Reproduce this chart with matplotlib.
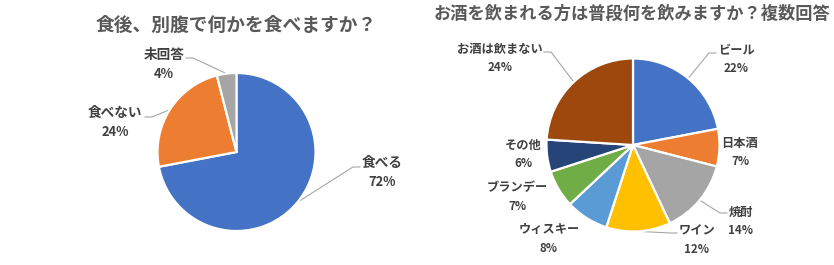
import numpy as np
import matplotlib.pyplot as plt

plt.rcParams['font.family'] = ['Noto Sans CJK JP', 'DejaVu Sans']

W, H = 834, 265

# 食後、別腹で何かを食べますか？
after_labels = ['食べる', '食べない', '未回答']
after_values = [72, 24, 4]

# お酒を飲まれる方は普段何を飲みますか？（複数回答）
drink_labels = ['ビール', '日本酒', '焼酎', 'ワイン', 'ウィスキー',
                'ブランデー', 'その他', 'お酒は飲まない']
drink_values = [22, 7, 14, 12, 8, 7, 6, 24]

office = ['#4472C4', '#ED7D31', '#A5A5A5', '#FFC000',
          '#5B9BD5', '#70AD47', '#264478', '#9E480E']

# label layout in pixel coords (y down): name centre x, name y, leader start or None
after_pos = [(382, 163, (360, 167)),
             (115, 113, (145, 117)),
             (164, 55, (186, 58))]
drink_pos = [(736, 50, (716, 53)),
             (740, 143, None),
             (741, 212, (727, 213)),
             (697, 231, (677, 233)),
             (549, 230, None),
             (517, 188, None),
             (523, 145, None),
             (500, 49, (544, 52))]

fig = plt.figure(figsize=(W / 100, H / 100), dpi=100)
ax = fig.add_axes([0, 0, 1, 1])


def draw_pie(values, labels, pos, center, radius, fs, dy):
    # y axis is flipped, so counterclock in data = clockwise on screen
    wedges, _ = ax.pie(values, colors=office[:len(values)], center=center,
                       radius=radius, startangle=-90, counterclock=True,
                       wedgeprops=dict(edgecolor='white', linewidth=1.6))
    total = sum(values)
    for w, name, v, (x, y, anchor) in zip(wedges, labels, values, pos):
        ax.text(x, y, name, ha='center', va='center', fontsize=fs,
                fontweight='bold', color='#404040')
        ax.text(x, y + dy, f'{round(100 * v / total)}%', ha='center',
                va='center', fontsize=fs * 0.95, fontweight='bold',
                color='#404040')
        if anchor is None:
            continue
        mid = np.deg2rad((w.theta1 + w.theta2) / 2)
        ex = center[0] + radius * np.cos(mid)
        ey = center[1] + radius * np.sin(mid)
        step = 7 if ex > anchor[0] else -7
        ax.plot([anchor[0], anchor[0] + step, ex], [anchor[1], anchor[1], ey],
                color='#A6A6A6', linewidth=0.8, zorder=0)


draw_pie(after_values, after_labels, after_pos, (236.5, 152), 79, 9.8, 19.5)
draw_pie(drink_values, drink_labels, drink_pos, (633, 145), 86.5, 8.8, 18.5)

ax.text(236, 25, '食後、別腹で何かを食べますか？', ha='center', va='center',
        fontsize=13.5, fontweight='bold', color='#595959')
ax.text(434, 14, 'お酒を飲まれる方は普段何を飲みますか？複数回答', ha='left',
        va='center', fontsize=12.4, fontweight='bold', color='#595959')

ax.set_xlim(0, W)
ax.set_ylim(H, 0)
ax.set_aspect('auto')
ax.axis('off')

fig.savefig('out.png', dpi=100, facecolor='white')
